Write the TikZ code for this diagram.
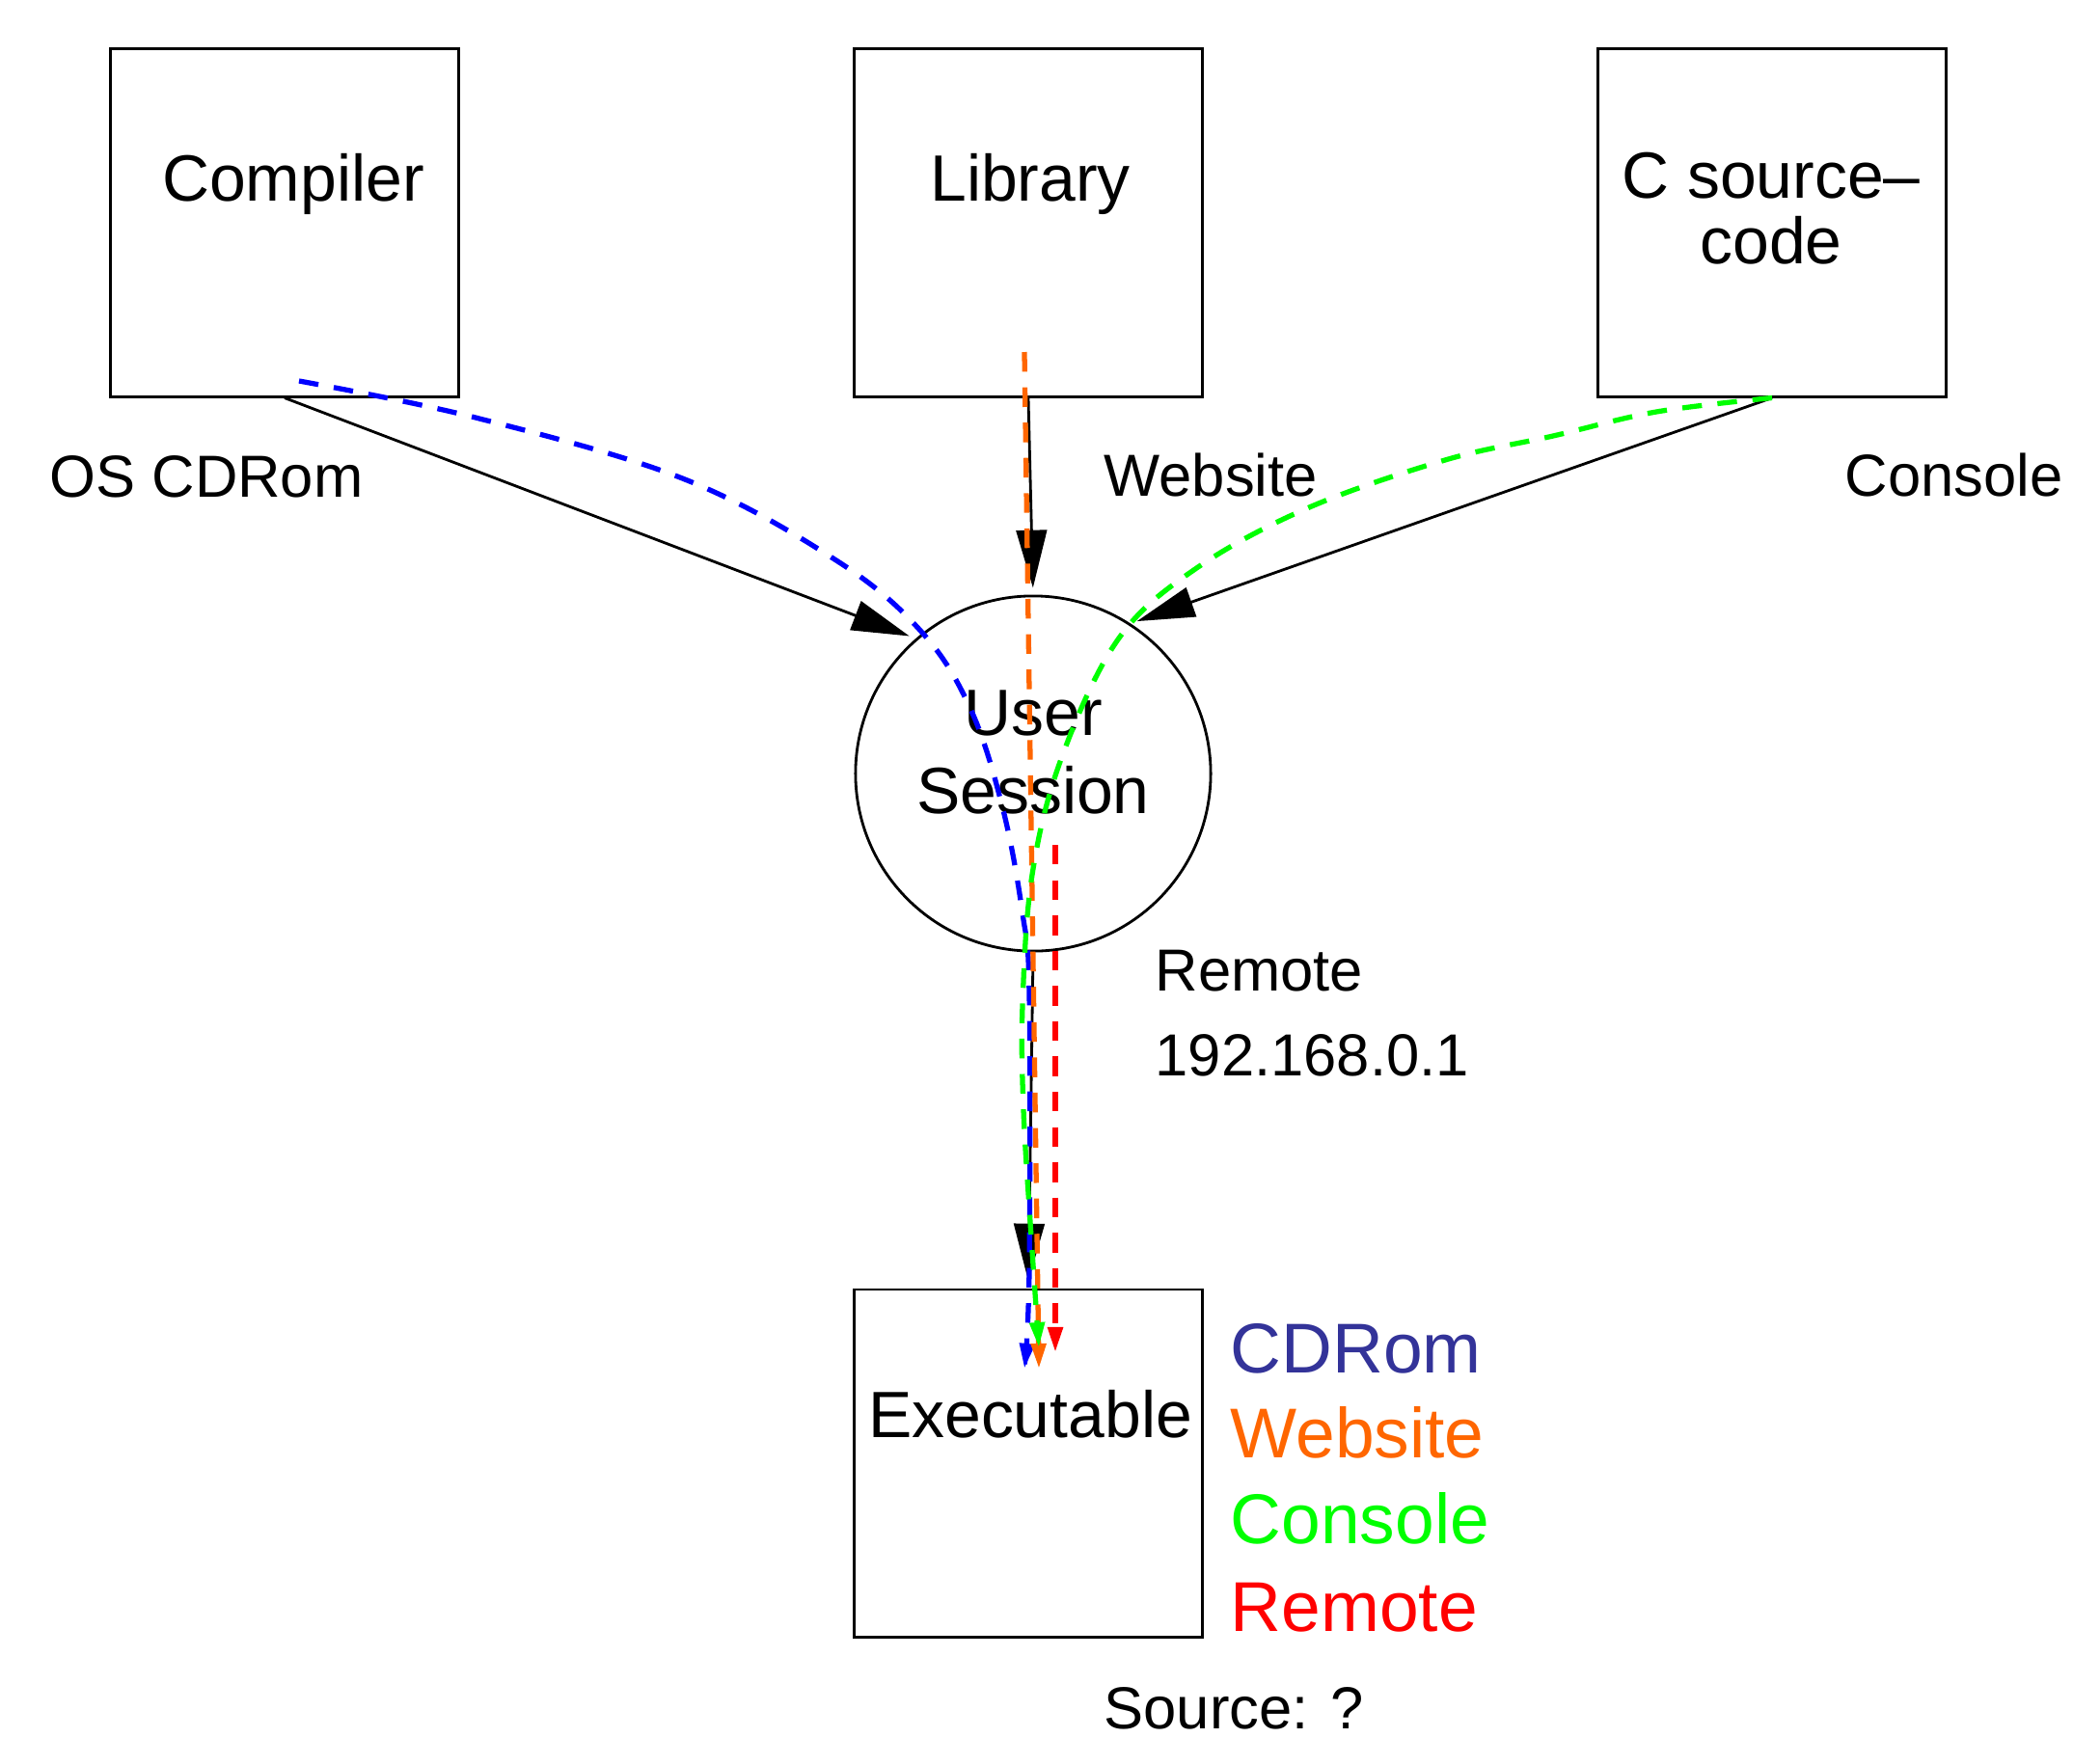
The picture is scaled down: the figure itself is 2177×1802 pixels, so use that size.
\documentclass[tikz,border=0pt]{standalone}
\usepackage{fontspec}
\setmainfont{Liberation Sans}
\usetikzlibrary{arrows.meta}
\definecolor{cdblue}{RGB}{51,51,153}
\definecolor{weborange}{RGB}{255,102,0}
\definecolor{congreen}{RGB}{0,255,0}
\definecolor{remred}{RGB}{255,0,0}

\begin{document}
\begin{tikzpicture}[x=0.01cm,y=-0.01cm,
		box/.style={draw, line width=0.8pt, minimum size=3.6cm, inner sep=0pt},
		sess/.style={draw, circle, line width=0.8pt, minimum size=3.68cm, inner sep=0pt},
		boxtext/.style={font=\fontsize{19.3pt}{19.3pt}\selectfont, align=center, inner sep=0pt, anchor=base},
		edgelbl/.style={font=\fontsize{17.5pt}{24.8pt}\selectfont, align=left, inner sep=0pt, anchor=base west},
		legend/.style={font=\fontsize{20.8pt}{25pt}\selectfont, inner sep=0pt, anchor=base west},
		conn/.style={line width=0.8pt, -{Triangle[length=17pt,width=9pt]}, shorten >=2pt},
		route/.style={line width=1.5pt, dash pattern=on 5.8pt off 4.6pt, -{Triangle[length=7.4pt,width=4.3pt]}}]
			\useasboundingbox (0,0) rectangle (2177,1802);
			% boxes and session
			\node[box] (cmp) at (295,231) {};
			\node[box] (lib) at (1066,231) {};
			\node[box] (src) at (1837,231) {};
			\node[box] (exe) at (1066,1517) {};
			\node[sess] (us) at (1071,802) {};
			\node[boxtext] (cmpT) at (304,208) {Compiler};
			\node[boxtext] (libT) at (1068,208) {Library};
			\node[boxtext] (srcT) at (1836,273) {C source–\\code};
			\node[boxtext, font=\fontsize{19.3pt}{23pt}\selectfont] (usT) at (1071,843) {User\\Session};
			\node[boxtext] (exeT) at (1068,1490) {Executable};
			% connections
			\draw[conn] (cmp.south) -- (us.131);
			\draw[conn] (lib.south) -- (us.north);
			\draw[conn] (src.south) -- (us.57);
			\draw[conn] (us.south) -- (exe.north);
			% edge labels
			\node[edgelbl] (osL) at (51,515) {OS CDRom};
			\node[edgelbl] (webL) at (1144,514) {Website};
			\node[edgelbl] (conL) at (1912,514) {Console};
			\node[edgelbl] (remL) at (1197,1115) {Remote\\192.168.0.1};
			% routes
			\coordinate (cdS) at (310,395);
			\coordinate (webS) at (1062,365);
			\coordinate (remS) at (1094,876);
			\draw[route, blue] plot [smooth, tension=0.6] coordinates {(cdS) (493,433) (710,497) (870,583) (957,657) (1007,737) (1040,840) (1060,947) (1067,1030) (1067,1317) (1062,1419)};
			\draw[route, weborange] (webS) -- (1077,1419);
			\draw[route, congreen] plot [smooth, tension=0.6] coordinates {(src.south) (1717,427) (1610,452) (1498,477) (1355,527) (1239,590) (1159,663) (1100,787) (1070,907) (1060,1043) (1061,1150) (1068,1267) (1077,1397)};
			\draw[route, remred] (remS) -- (1094,1402);
			% legend
			\node[legend, cdblue] (legCd) at (1275,1423) {CDRom};
			\node[legend, weborange] (legWeb) at (1275,1511) {Website};
			\node[legend, congreen] (legCon) at (1275,1600) {Console};
			\node[legend, remred] (legRem) at (1275,1691) {Remote};
			\node[edgelbl, text depth=0pt] (srcL) at (1144,1792) {Source: ?};
		\end{tikzpicture}
\end{document}
